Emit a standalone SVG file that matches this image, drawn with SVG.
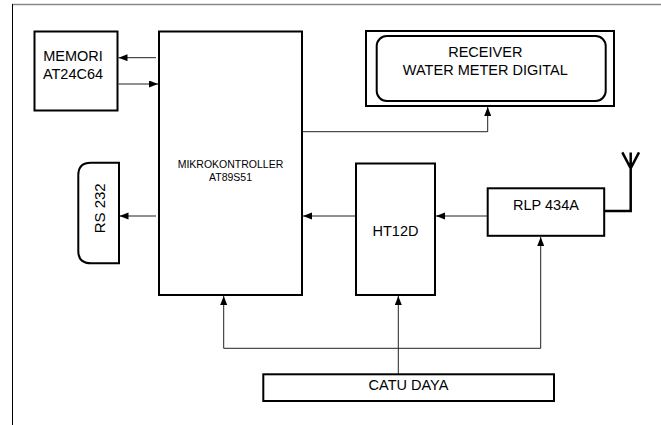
<svg xmlns="http://www.w3.org/2000/svg" width="661" height="425" viewBox="0 0 661 425">
<style>
.box{fill:#fff;stroke:#000;stroke-width:2}
.lbl{font-family:"Liberation Sans",Arial,sans-serif;font-size:14.5px;fill:#000;text-anchor:middle}
.small{font-size:10.5px}
.con{fill:none;stroke:#222;stroke-width:1}
.ant{fill:none;stroke:#000;stroke-width:2.5}
</style>
<defs>
<marker id="ah" markerUnits="userSpaceOnUse" markerWidth="10" markerHeight="8" refX="9" refY="3.5" orient="auto">
<path d="M0,0 L9,3.5 L0,7 z" fill="#000"/>
</marker>
</defs>
<rect width="661" height="425" fill="#fff"/>
<g id="frame">
<line x1="12" y1="4.5" x2="661" y2="4.5" stroke="#888" stroke-width="1.5"/>
<line x1="12.5" y1="4" x2="12.5" y2="425" stroke="#000" stroke-width="1"/>
</g>
<g id="memori">
<rect class="box" x="34.5" y="31.5" width="83" height="79"/>
<text class="lbl" x="73" y="60.5">MEMORI</text>
<text class="lbl" x="73" y="78.5">AT24C64</text>
</g>
<g id="mikrokontroller">
<rect class="box" x="159" y="31.5" width="143" height="263.5"/>
<text class="lbl small" x="230.5" y="167.5">MIKROKONTROLLER</text>
<text class="lbl small" x="230.5" y="180.5">AT89S51</text>
</g>
<g id="receiver">
<rect class="box" x="366" y="31" width="248" height="75"/>
<rect class="box" x="376.7" y="36" width="229" height="65" rx="10" ry="10"/>
<text class="lbl" x="485.3" y="57.3">RECEIVER</text>
<text class="lbl" x="485.3" y="75">WATER METER DIGITAL</text>
</g>
<g id="rs232">
<path class="box" d="M119,162.7 H91 Q78.3,162.7 78.3,175 V251 Q78.3,263.3 91,263.3 H119 Z"/>
<text class="lbl" transform="translate(104.5,208.3) rotate(-90)" x="0" y="0" style="font-size:15px">RS 232</text>
</g>
<g id="ht12d">
<rect class="box" x="356" y="163.5" width="79" height="131.5"/>
<text class="lbl" x="395.5" y="236">HT12D</text>
</g>
<g id="rlp434a">
<rect class="box" x="487.7" y="188.3" width="116.5" height="47.5"/>
<text class="lbl" x="546" y="210">RLP 434A</text>
<path class="ant" d="M604,211 H630.7 V152.5 M622.3,152.3 L630.7,168.3 L639,152.3"/>
</g>
<g id="catudaya">
<rect class="box" x="263.3" y="374.3" width="290.7" height="26.7"/>
<text class="lbl" x="408.5" y="390">CATU DAYA</text>
</g>
<g id="connectors">
<line class="con" x1="156" y1="57.7" x2="118.5" y2="57.7" marker-end="url(#ah)"/>
<line class="con" x1="118.5" y1="84" x2="158" y2="84" marker-end="url(#ah)"/>
<line class="con" x1="156" y1="216" x2="119.5" y2="216" marker-end="url(#ah)"/>
<line class="con" x1="355" y1="216" x2="303" y2="216" marker-end="url(#ah)"/>
<line class="con" x1="487" y1="216" x2="436" y2="216" marker-end="url(#ah)"/>
<polyline class="con" points="303,131.7 487.7,131.7 487.7,107" marker-end="url(#ah)"/>
<line class="con" x1="398.3" y1="374" x2="398.3" y2="296" marker-end="url(#ah)"/>
<line class="con" x1="223.7" y1="348.3" x2="540.7" y2="348.3"/>
<line class="con" x1="223.7" y1="348.3" x2="223.7" y2="296" marker-end="url(#ah)"/>
<line class="con" x1="540.7" y1="348.3" x2="540.7" y2="237" marker-end="url(#ah)"/>
</g>
</svg>
